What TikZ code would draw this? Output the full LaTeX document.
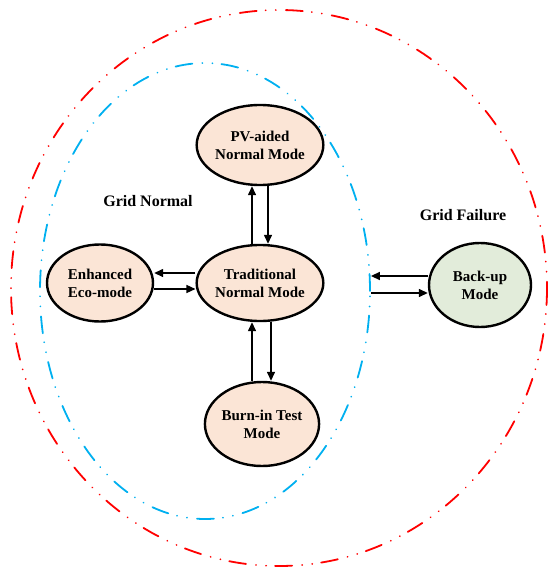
\documentclass[tikz,border=0pt]{standalone}
\usepackage{fontspec}
\setmainfont{Liberation Serif}
\usetikzlibrary{shapes.geometric,arrows.meta}
\definecolor{zonered}{RGB}{255,0,0}
\definecolor{zoneblue}{RGB}{0,176,240}
\definecolor{modepeach}{RGB}{251,229,214}
\definecolor{modegreen}{RGB}{226,236,218}
\tikzset{
  dashdotdot/.style={line width=1.8pt, line cap=round,
    dash pattern=on 17pt off 9pt on 0.1pt off 10pt on 0.1pt off 10pt},
  mode/.style={ellipse, draw=black, line width=2.4pt, fill=modepeach,
    inner sep=0pt, align=center,
    font=\fontsize{15}{18}\selectfont\bfseries},
  zone/.style={ellipse, inner sep=0pt},
  flow/.style={line width=1.4pt, -{Triangle[length=9pt,width=8pt]}},
  zonelabel/.style={font=\fontsize{16}{19}\selectfont\bfseries}
}
\begin{document}
\begin{tikzpicture}[x=1pt,y=-1pt]
\useasboundingbox (0,0) rectangle (548,567);
% outer zone (grid failure) and inner zone (grid normal)
\draw[dashdotdot, zonered] (279,288) ellipse [x radius=268, y radius=278];
\node[zone, dashdotdot, draw=zoneblue, minimum width=330pt, minimum height=456pt]
  (normalzone) at (205,291) {};
% operating modes
\node[mode, minimum width=100pt, minimum height=80pt] (pv) at (260,145)
  {PV-aided\\Normal Mode};
\node[mode, minimum width=104pt, minimum height=76pt] (trad) at (260,283)
  {Traditional\\Normal Mode};
\node[mode, minimum width=106pt, minimum height=77pt] (eco) at (100,283)
  {Enhanced\\Eco-mode};
\node[mode, minimum width=106pt, minimum height=84pt] (burn) at (262,424)
  {Burn-in Test\\Mode};
\node[mode, fill=modegreen, minimum width=102pt, minimum height=84pt] (backup) at (480,285)
  {Back-up\\Mode};
% zone labels
\node[zonelabel] (lnormal) at (148,201) {Grid Normal};
\node[zonelabel] (lfail) at (463,215) {Grid Failure};
% transitions (yshift is measured upwards)
\draw[flow] ([xshift=-8pt]trad.north) -- ([xshift=-8pt]pv.south);
\draw[flow] ([xshift=8pt]pv.south) -- ([xshift=8pt]trad.north);
\draw[flow] ([yshift=10pt]trad.west) -- ([yshift=10pt]eco.east);
\draw[flow] ([yshift=-6pt]eco.east) -- ([yshift=-6pt]trad.west);
\draw[flow] ([xshift=-10pt]burn.north) -- ([xshift=-8pt]trad.south);
\draw[flow] ([xshift=11pt]trad.south) -- ([xshift=9pt]burn.north);
\draw[flow] ([yshift=9pt]backup.west) -- ([yshift=15pt]normalzone.east);
\draw[flow] ([yshift=-2pt]normalzone.east) -- ([yshift=-8pt]backup.west);
\end{tikzpicture}
\end{document}
